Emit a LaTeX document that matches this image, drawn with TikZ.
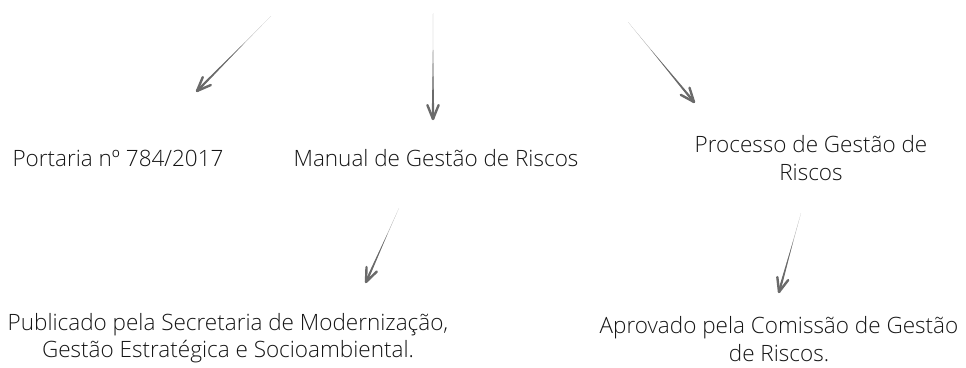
\documentclass[tikz,border=0pt]{standalone}
\usepackage{fontspec}
\setmainfont{Open Sans Light}
\usetikzlibrary{calc}
\definecolor{arrowgray}{HTML}{6A6A6A}
\definecolor{txt}{HTML}{151515}
\tikzset{
  lbl/.style={text=txt, font=\fontsize{22.5}{27.5}\selectfont, align=center, inner sep=0pt},
}
\newcommand{\taperarrow}[2]{%
  \fill[arrowgray!55] (#1) -- ($(#2)!0.7pt!90:(#1)$) -- ($(#2)!0.7pt!-90:(#1)$) -- cycle;
  \fill[arrowgray] ($(#1)!0.35!(#2)$) -- ($(#2)!1.3pt!90:(#1)$) -- ($(#2)!1.3pt!-90:(#1)$) -- cycle;
  \draw[arrowgray, line width=2.4pt, line cap=round, line join=round]
    ($(#2)!15pt!22:(#1)$) -- (#2) -- ($(#2)!15pt!-22:(#1)$);
}
\begin{document}
\begin{tikzpicture}[x=1pt,y=-1pt]
\useasboundingbox (0,0) rectangle (966,367);
\node[lbl] (portaria) at (118,158) {Portaria nº 784/2017};
\node[lbl] (manual) at (436,158) {Manual de Gestão de Riscos};
\node[lbl] (processo) at (811,158) {Processo de Gestão de\\Riscos};
\node[lbl] (publicado) at (228,338) {Publicado pela Secretaria de Modernização,\\Gestão Estratégica e Socioambiental.};
\node[lbl] (aprovado) at (779,339) {Aprovado pela Comissão de Gestão\\de Riscos.};
\coordinate (a1s) at (271,16);  \coordinate (a1e) at (197,91);
\coordinate (a2s) at (433,13);  \coordinate (a2e) at (433,119);
\coordinate (a3s) at (628,22);  \coordinate (a3e) at (694,102);
\coordinate (a4s) at (399,208); \coordinate (a4e) at (366,282);
\coordinate (a5s) at (801,213); \coordinate (a5e) at (779,292);
\taperarrow{a1s}{a1e}
\taperarrow{a2s}{a2e}
\taperarrow{a3s}{a3e}
\taperarrow{a4s}{a4e}
\taperarrow{a5s}{a5e}
\end{tikzpicture}
\end{document}
